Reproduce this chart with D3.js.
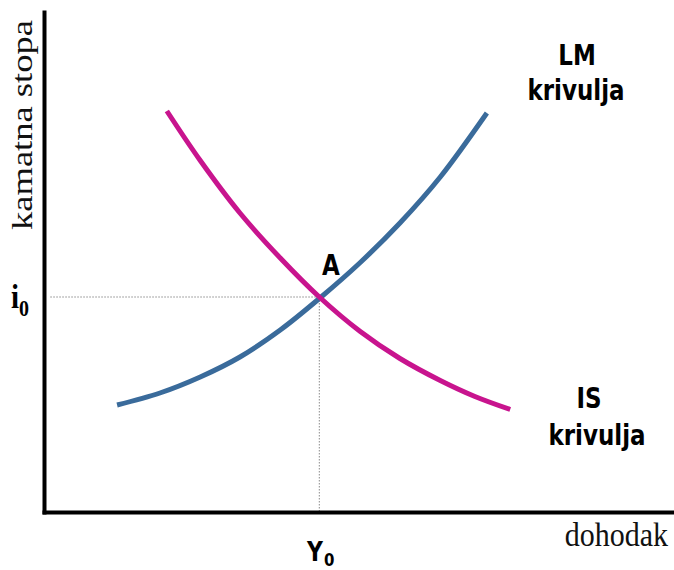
<!DOCTYPE html>
<html>
<head>
<meta charset="utf-8">
<script src="https://cdn.jsdelivr.net/npm/d3@7"></script>
<style>
  html, body { margin: 0; padding: 0; background: #fff; }
  svg { display: block; }
  .serif { font-family: "Liberation Serif", "DejaVu Serif", serif; }
  .bold { font-family: "DejaVu Sans", Verdana, sans-serif; font-weight: bold; }
</style>
</head>
<body>
<svg id="chart" width="674" height="570"></svg>
<script>
const isIncome   = [19.5, 24.8, 31.1, 37.5, 43.7, 50.2, 56.5, 62.9, 68.4, 74.0];
const isRate     = [80.2, 70.3, 59.8, 50.8, 43.0, 36.1, 30.7, 26.3, 23.1, 20.5];
const lmIncome   = [11.6, 18.4, 24.8, 31.1, 37.5, 43.8, 50.2, 56.5, 62.9, 70.3];
const lmRate     = [21.4, 23.8, 27.0, 31.0, 36.4, 42.8, 49.9, 57.8, 67.0, 79.8];
const equilibrium = [43.7, 43.0]; // Y0, i0

const svg = d3.select('#chart');

const x = d3.scaleLinear().domain([0, 100]).range([44, 674]);
const y = d3.scaleLinear().domain([0, 100]).range([512, 12]);

const isData = isIncome.map((v, i) => ({ x: v, y: isRate[i] }));
const lmData = lmIncome.map((v, i) => ({ x: v, y: lmRate[i] }));

const line = d3.line()
  .x(d => x(d.x))
  .y(d => y(d.y))
  .curve(d3.curveCatmullRom.alpha(0.5));

// dotted guides to the axes
svg.append('line')
  .attr('x1', x(1)).attr('x2', x(equilibrium[0]))
  .attr('y1', y(equilibrium[1])).attr('y2', y(equilibrium[1]))
  .attr('stroke', '#8a8a8a').attr('stroke-width', 1)
  .attr('stroke-dasharray', '1.5,1.5');
svg.append('line')
  .attr('x1', x(equilibrium[0])).attr('x2', x(equilibrium[0]))
  .attr('y1', y(equilibrium[1])).attr('y2', y(0))
  .attr('stroke', '#8a8a8a').attr('stroke-width', 1)
  .attr('stroke-dasharray', '1.5,1.5');

// curves
svg.append('path')
  .datum(lmData)
  .attr('fill', 'none')
  .attr('stroke', '#3a6b9b')
  .attr('stroke-width', 5)
  .attr('d', line);

svg.append('path')
  .datum(isData)
  .attr('fill', 'none')
  .attr('stroke', '#c8148e')
  .attr('stroke-width', 5)
  .attr('d', line);

// axes (no ticks)
svg.append('g')
  .attr('transform', 'translate(0,' + y(0) + ')')
  .call(d3.axisBottom(x).tickValues([]).tickSizeOuter(0));
svg.append('g')
  .attr('transform', 'translate(' + x(0) + ',0)')
  .call(d3.axisLeft(y).tickValues([]).tickSizeOuter(0));
svg.selectAll('.domain')
  .attr('stroke', '#000')
  .attr('stroke-width', 4)
  .attr('stroke-linecap', 'square');

// axis titles
svg.append('text')
  .attr('class', 'serif')
  .attr('transform', 'translate(32,230) rotate(-90)')
  .attr('font-size', 30)
  .attr('textLength', 210)
  .attr('lengthAdjust', 'spacingAndGlyphs')
  .attr('fill', '#111')
  .text('kamatna stopa');

svg.append('text')
  .attr('class', 'serif')
  .attr('transform', 'translate(668,546) scale(1,1.15)')
  .attr('text-anchor', 'end')
  .attr('font-size', 30)
  .attr('fill', '#111')
  .text('dohodak');

// i0 label
const iLab = svg.append('text')
  .attr('class', 'serif')
  .attr('transform', 'translate(11,308) scale(1,1.15)')
  .attr('font-weight', 'bold')
  .attr('font-size', 29)
  .attr('fill', '#000');
iLab.append('tspan').text('i');
iLab.append('tspan').attr('font-size', 20).attr('dy', 7).text('0');

// Y0 label
const yLab = svg.append('text')
  .attr('class', 'bold')
  .attr('transform', 'translate(307,561) scale(1,1.2)')
  .attr('font-size', 22)
  .attr('fill', '#000');
yLab.append('tspan').text('Y');
yLab.append('tspan').attr('font-size', 15).attr('dy', 4).attr('dx', 1).text('0');

// point A
svg.append('text')
  .attr('class', 'bold')
  .attr('transform', 'translate(331,275) scale(1,1.2)')
  .attr('text-anchor', 'middle')
  .attr('font-size', 23)
  .attr('fill', '#000')
  .text('A');

// curve labels
const labels = [
  { t: 'LM', cx: 577, by: 65 },
  { t: 'krivulja', cx: 576, by: 100 },
  { t: 'IS', cx: 589, by: 408 },
  { t: 'krivulja', cx: 597, by: 445 }
];
labels.forEach(l => {
  svg.append('text')
    .attr('class', 'bold')
    .attr('transform', 'translate(' + l.cx + ',' + l.by + ') scale(1,1.2)')
    .attr('text-anchor', 'middle')
    .attr('font-size', 23)
    .attr('fill', '#000')
    .text(l.t);
});
</script>
</body>
</html>
